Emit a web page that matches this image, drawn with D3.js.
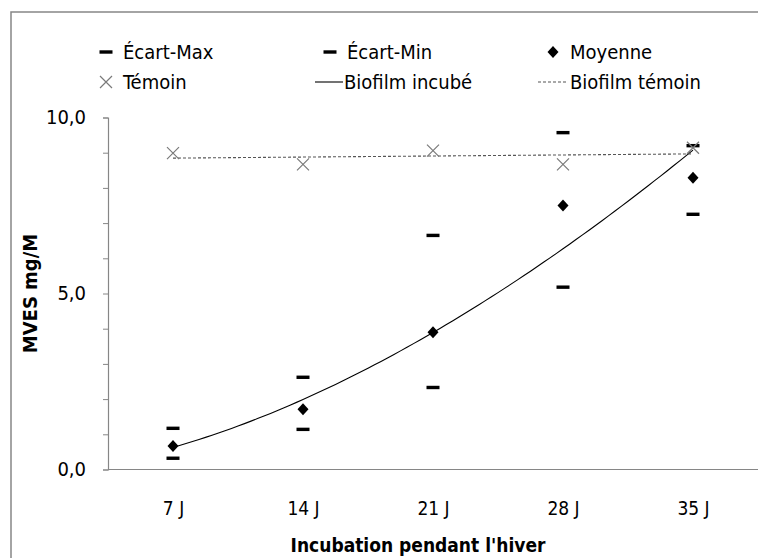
<!DOCTYPE html>
<html><head><meta charset="utf-8">
<script src="https://cdn.jsdelivr.net/npm/d3@7"></script>
<style>
html,body{margin:0;padding:0;background:#fff;}
svg text{font-family:"Liberation Sans Narrow","DejaVu Sans Condensed","Roboto Condensed",Roboto,sans-serif;}
</style></head>
<body>
<svg id="chart" width="758" height="558"></svg>
<script>
const categories = ["7 J","14 J","21 J","28 J","35 J"];
const ecartMax = [1.17, 2.62, 6.65, 9.57, 9.2];
const ecartMin = [0.32, 1.14, 2.33, 5.18, 7.25];
const moyenne  = [0.67, 1.71, 3.9, 7.5, 8.29];
const temoin   = [8.99, 8.67, 9.06, 8.67, 9.14];
const yTicks   = [0, 5, 10];
const yTickLabels = ["0,0","5,0","10,0"];

(function(){
const svg = d3.select("#chart");
const pL = 108, pR = 758, pT = 117.5, pB = 469.5;

// outer border
svg.append("rect").attr("x",11).attr("y",12).attr("width",800).attr("height",600)
  .attr("fill","#fff").attr("stroke","#868686").attr("stroke-width",1.5);

const x = d3.scalePoint().domain(categories).range([pL,pR]).padding(0.5);
const y = d3.scaleLinear().domain([0,10]).range([pB,pT]);

// Y axis with minor ticks
const yAxis = d3.axisLeft(y).tickValues(d3.range(0,11,1)).tickSize(5)
  .tickFormat(d => { const i = yTicks.indexOf(d); return i>=0 ? yTickLabels[i] : ""; })
  .tickPadding(17);
const gy = svg.append("g").attr("transform",`translate(${pL},0)`).call(yAxis);
gy.select(".domain").attr("stroke","#868686").attr("stroke-width",1.2);
gy.selectAll(".tick line").attr("stroke","#868686");
gy.selectAll(".tick text").attr("font-size",20).attr("fill","#000");

// X axis
const xAxis = d3.axisBottom(x).tickSize(0).tickPadding(32);
const gx = svg.append("g").attr("transform",`translate(0,${pB})`).call(xAxis);
gx.select(".domain").attr("stroke","#868686").attr("stroke-width",1.2).attr("d",`M${pL},0H${pR+2}`);
gx.selectAll(".tick text").attr("font-size",19).attr("fill","#000");

// axis titles
svg.append("text").attr("transform",`translate(37,${(pT+pB)/2}) rotate(-90)`)
  .attr("text-anchor","middle").attr("font-size",20).attr("font-weight","bold").text("MVES mg/M");
svg.append("text").attr("x",418).attr("y",552).attr("text-anchor","middle")
  .attr("font-size",19).attr("font-weight","bold").text("Incubation pendant l'hiver");

// Trendlines (fits computed from the data)
const xi = categories.map((c,i)=>i+1);
const lx = xi.map(Math.log), ly = moyenne.map(Math.log);
const mlx = d3.mean(lx), mly = d3.mean(ly);
const bP = d3.sum(lx.map((v,i)=>(v-mlx)*(ly[i]-mly))) / d3.sum(lx.map(v=>(v-mlx)**2));
const aP = Math.exp(mly - bP*mlx);
const xc = d3.scaleLinear().domain([1,5]).range([x(categories[0]), x(categories[4])]);
const curvePts = d3.range(1,5.001,0.05).map(t=>[xc(t), y(aP*Math.pow(t,bP))]);
svg.append("path").attr("d", d3.line()(curvePts)).attr("fill","none")
  .attr("stroke","#000").attr("stroke-width",1.1);
const mx = d3.mean(xi), my = d3.mean(temoin);
const bL = d3.sum(xi.map((v,i)=>(v-mx)*(temoin[i]-my))) / d3.sum(xi.map(v=>(v-mx)**2));
const aL = my - bL*mx;
svg.append("line").attr("x1",xc(1)).attr("x2",xc(5))
  .attr("y1",y(aL+bL*1)).attr("y2",y(aL+bL*5))
  .attr("stroke","#555").attr("stroke-width",1.1).attr("stroke-dasharray","3,2");

// markers
function dash(g, cx, cy){ g.append("rect").attr("x",cx-6.5).attr("y",cy-1.7).attr("width",13).attr("height",3.4).attr("fill","#000"); }
function diamond(g, cx, cy){ g.append("path").attr("d",`M${cx},${cy-6}L${cx+5.5},${cy}L${cx},${cy+6}L${cx-5.5},${cy}Z`).attr("fill","#000"); }
function cross(g, cx, cy){ g.append("path").attr("d",`M${cx-6},${cy-6}L${cx+6},${cy+6}M${cx+6},${cy-6}L${cx-6},${cy+6}`).attr("stroke","#7a7a7a").attr("stroke-width",1.2).attr("fill","none"); }

const gm = svg.append("g");
categories.forEach((c,i)=>{
  dash(gm, x(c), y(ecartMax[i]));
  dash(gm, x(c), y(ecartMin[i]));
  diamond(gm, x(c), y(moyenne[i]));
  cross(gm, x(c), y(temoin[i]));
});

// legend
const lg = svg.append("g");
const r1 = 52, r2 = 82;
dash(lg, 106, r1);
lg.append("text").attr("x",123).attr("y",r1+7).attr("font-size",20).text("Écart-Max");
dash(lg, 330, r1);
lg.append("text").attr("x",347).attr("y",r1+7).attr("font-size",20).text("Écart-Min");
diamond(lg, 553, r1);
lg.append("text").attr("x",570).attr("y",r1+7).attr("font-size",20).text("Moyenne");
cross(lg, 106, r2);
lg.append("text").attr("x",123).attr("y",r2+7).attr("font-size",20).text("Témoin");
lg.append("line").attr("x1",315).attr("x2",343).attr("y1",r2).attr("y2",r2).attr("stroke","#000").attr("stroke-width",1.1);
lg.append("text").attr("x",344).attr("y",r2+7).attr("font-size",20).text("Biofilm incubé");
lg.append("line").attr("x1",538).attr("x2",566).attr("y1",r2).attr("y2",r2).attr("stroke","#555").attr("stroke-width",1.1).attr("stroke-dasharray","3,2");
lg.append("text").attr("x",570).attr("y",r2+7).attr("font-size",20).text("Biofilm témoin");
})();
</script>
</body></html>
